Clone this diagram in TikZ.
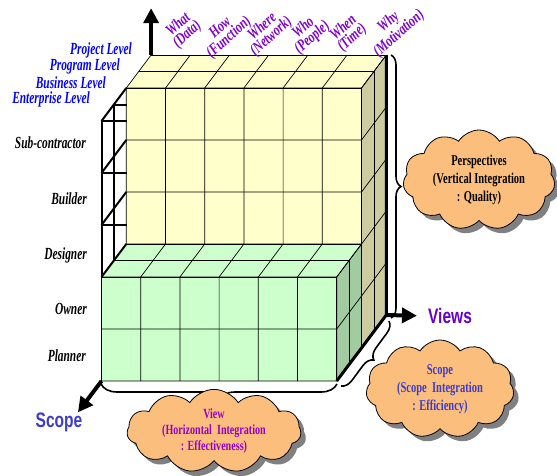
\documentclass[tikz,border=0pt]{standalone}
\usepackage{fontspec}
\setmainfont{Liberation Serif}
\setsansfont{Liberation Sans}
\usepackage{graphicx}
\usetikzlibrary{arrows.meta, positioning, shapes.symbols, shadows, decorations.pathreplacing}

\definecolor{cubeyellow}{RGB}{255,255,204}
\definecolor{cubeyside}{RGB}{204,204,160}
\definecolor{cubegreen}{RGB}{204,255,204}
\definecolor{cubegside}{RGB}{160,204,160}
\definecolor{cloudfill}{RGB}{252,190,125}
\definecolor{lvlblue}{RGB}{0,0,255}
\definecolor{scopeblue}{RGB}{60,60,204}
\definecolor{colpurple}{RGB}{128,0,208}
\definecolor{viewpurple}{RGB}{150,0,204}
\definecolor{axispurple}{RGB}{102,0,204}

\newcommand{\cnd}[2][0.67]{\scalebox{#1}[1]{#2}}

\begin{document}
\begin{tikzpicture}[x=1pt, y=-1pt,
    lvl/.style={anchor=east, inner sep=0pt, text=lvlblue,
      font=\fontsize{17}{17}\selectfont\bfseries\itshape},
    role/.style={anchor=east, inner sep=0pt,
      font=\fontsize{17}{17}\selectfont\bfseries\itshape},
    colhead/.style={rotate=42, align=center, inner sep=0pt, text=colpurple,
      font=\fontsize{16}{13}\selectfont\bfseries\itshape},
    axislbl/.style={inner sep=0pt, font=\fontsize{21}{21}\selectfont\sffamily\bfseries},
    bubble/.style={cloud, cloud puffs=11, cloud puff arc=115, cloud ignores aspect,
      draw, fill=cloudfill, line width=0.8pt, align=center, inner sep=0pt,
      drop shadow={shadow xshift=5pt, shadow yshift=-5pt, fill=black!50, opacity=1},
      font=\fontsize{15}{18}\selectfont\bfseries},
    axisarrow/.style={-{Triangle[length=15pt,width=15pt]}, line width=4pt},
    brc/.style={decorate, decoration={brace, amplitude=#1}, line width=1.6pt},
    gl/.style={line width=0.7pt},
    wire/.style={line width=2pt},
    edge/.style={line width=3pt}
  ]
  \useasboundingbox (0,0) rectangle (557,475);

  % the cube
  \begin{scope}[shift={(101.5,381)}, x={(39.2pt,0pt)}, y={(0pt,52pt)}, z={(12.4pt,16.5pt)}]
    % yellow block (back two layers)
    \fill[cubeyellow] (0,0,2) -- (6,0,2) -- (6,5,2) -- (0,5,2) -- cycle;
    \fill[cubeyellow] (0,5,2) -- (6,5,2) -- (6,5,4) -- (0,5,4) -- cycle;
    \fill[cubeyside] (6,0,2) -- (6,0,4) -- (6,5,4) -- (6,5,2) -- cycle;
    \foreach \i in {0,...,6} \draw[gl] (\i,0,2) -- (\i,5,2) -- (\i,5,4);
    \foreach \j in {0,...,5} \draw[gl] (0,\j,2) -- (6,\j,2) -- (6,\j,4);
    \foreach \k in {2,3,4} \draw[gl] (0,5,\k) -- (6,5,\k) -- (6,0,\k);
    % green block (front two layers)
    \fill[cubegreen] (0,0,0) -- (6,0,0) -- (6,2,0) -- (0,2,0) -- cycle;
    \fill[cubegreen] (0,2,0) -- (6,2,0) -- (6,2,2) -- (0,2,2) -- cycle;
    \fill[cubegside] (6,0,0) -- (6,0,2) -- (6,2,2) -- (6,2,0) -- cycle;
    \foreach \i in {0,...,6} \draw[gl] (\i,0,0) -- (\i,2,0) -- (\i,2,2);
    \foreach \j in {0,1,2} \draw[gl] (0,\j,0) -- (6,\j,0) -- (6,\j,2);
    \foreach \k in {0,1,2} \draw[gl] (0,2,\k) -- (6,2,\k) -- (6,0,\k);
    % empty frame
    \draw[wire] (0,2,0) -- (0,5,0);
    \draw[wire] (0,2,1) -- (0,5,1);
    \foreach \j in {2,...,5} \draw[wire] (0,\j,0) -- (0,\j,2);
    \foreach \j in {3,4,5} \draw[wire] (0,\j,0) -- (0.66,\j,0);
    \draw[wire] (0,5,1) -- (0.34,5,1);
    % axes
    \draw[edge] (6,0,0) -- (6,0,4) -- (6,5,4);
    \coordinate (vbase) at (0,5,4);
    \coordinate (vtip) at (0,5.9,4);
    \coordinate (hbase) at (6,0,4);
    \coordinate (dbase) at (0,0,0);
    \coordinate (dtip) at (0,0,-1.9);
  \end{scope}

  % level labels
  \node[lvl] (project) at (132,50) {\cnd{Project Level}};
  \node[lvl] (program) at (120,66) {\cnd{Program Level}};
  \node[lvl] (business) at (106,83) {\cnd{Business Level}};
  \node[lvl] (enterprise) at (90,99) {\cnd{Enterprise Level}};

  % role labels
  \node[role] (subc) at (86,143) {\cnd{Sub-contractor}};
  \node[role] (builder) at (87,199) {\cnd{Builder}};
  \node[role] (designer) at (87,255) {\cnd{Designer}};
  \node[role] (owner) at (87,309) {\cnd{Owner}};
  \node[role] (planner) at (86,356) {\cnd{Planner}};

  % column labels
  \node[colhead] (what) at (183,30) {\cnd[0.75]{What}\\\cnd[0.75]{(Data)}};
  \node[colhead] (how) at (225,33) {\cnd[0.75]{How}\\\cnd[0.75]{(Function)}};
  \node[colhead] (where) at (267,32) {\cnd[0.75]{Where}\\\cnd[0.75]{(Network)}};
  \node[colhead] (who) at (308,33) {\cnd[0.75]{Who}\\\cnd[0.75]{(People)}};
  \node[colhead] (when) at (348,33) {\cnd[0.75]{When}\\\cnd[0.75]{(Time)}};
  \node[colhead] (why) at (394,28) {\cnd[0.75]{Why}\\\cnd[0.75]{(Motivation)}};

  % axis labels and arrows
  \node[axislbl, text=axispurple] (views) at (450,316) {\cnd[0.74]{Views}};
  \node[axislbl, text=scopeblue] (scopelbl) at (59,422) {\cnd[0.74]{Scope}};
  \draw[axisarrow] (vbase) -- (vtip);
  \draw[axisarrow, shorten >=11pt] (hbase) -- (views.west);
  \draw[axisarrow] (dbase) -- (dtip);

  % braces
  \coordinate (vbtop) at (391,55);
  \coordinate (vbbot) at (391,318);
  \coordinate (bbright) at (337,384);
  \coordinate (bbleft) at (101,384);
  \coordinate (dbtop) at (389,321);
  \coordinate (dbbot) at (341,386);
  \draw[brc=10pt] (vbtop) -- (vbbot);
  \draw[brc=16pt] (bbright) -- (bbleft);
  \draw[brc=11pt] (dbtop) -- (dbbot);

  % clouds
  \node[bubble, minimum width=152pt, minimum height=100pt] (persp) at (479,180)
    {\cnd[0.7]{Perspectives}\\\cnd[0.7]{(Vertical Integration}\\\cnd[0.7]{: Quality)}};
  \node[bubble, text=scopeblue, minimum width=148pt, minimum height=98pt] (scopecl) at (440,389)
    {\cnd[0.7]{Scope}\\\cnd[0.7]{(Scope\ \ Integration}\\\cnd[0.7]{: Efficiency)}};
  \node[bubble, text=viewpurple, minimum width=174pt, minimum height=72pt,
    font=\fontsize{14}{16}\selectfont\bfseries] (viewcl) at (214,431)
    {\cnd[0.72]{View}\\\cnd[0.72]{(Horizontal\ \ Integration}\\\cnd[0.72]{: Effectiveness)}};
\end{tikzpicture}
\end{document}
